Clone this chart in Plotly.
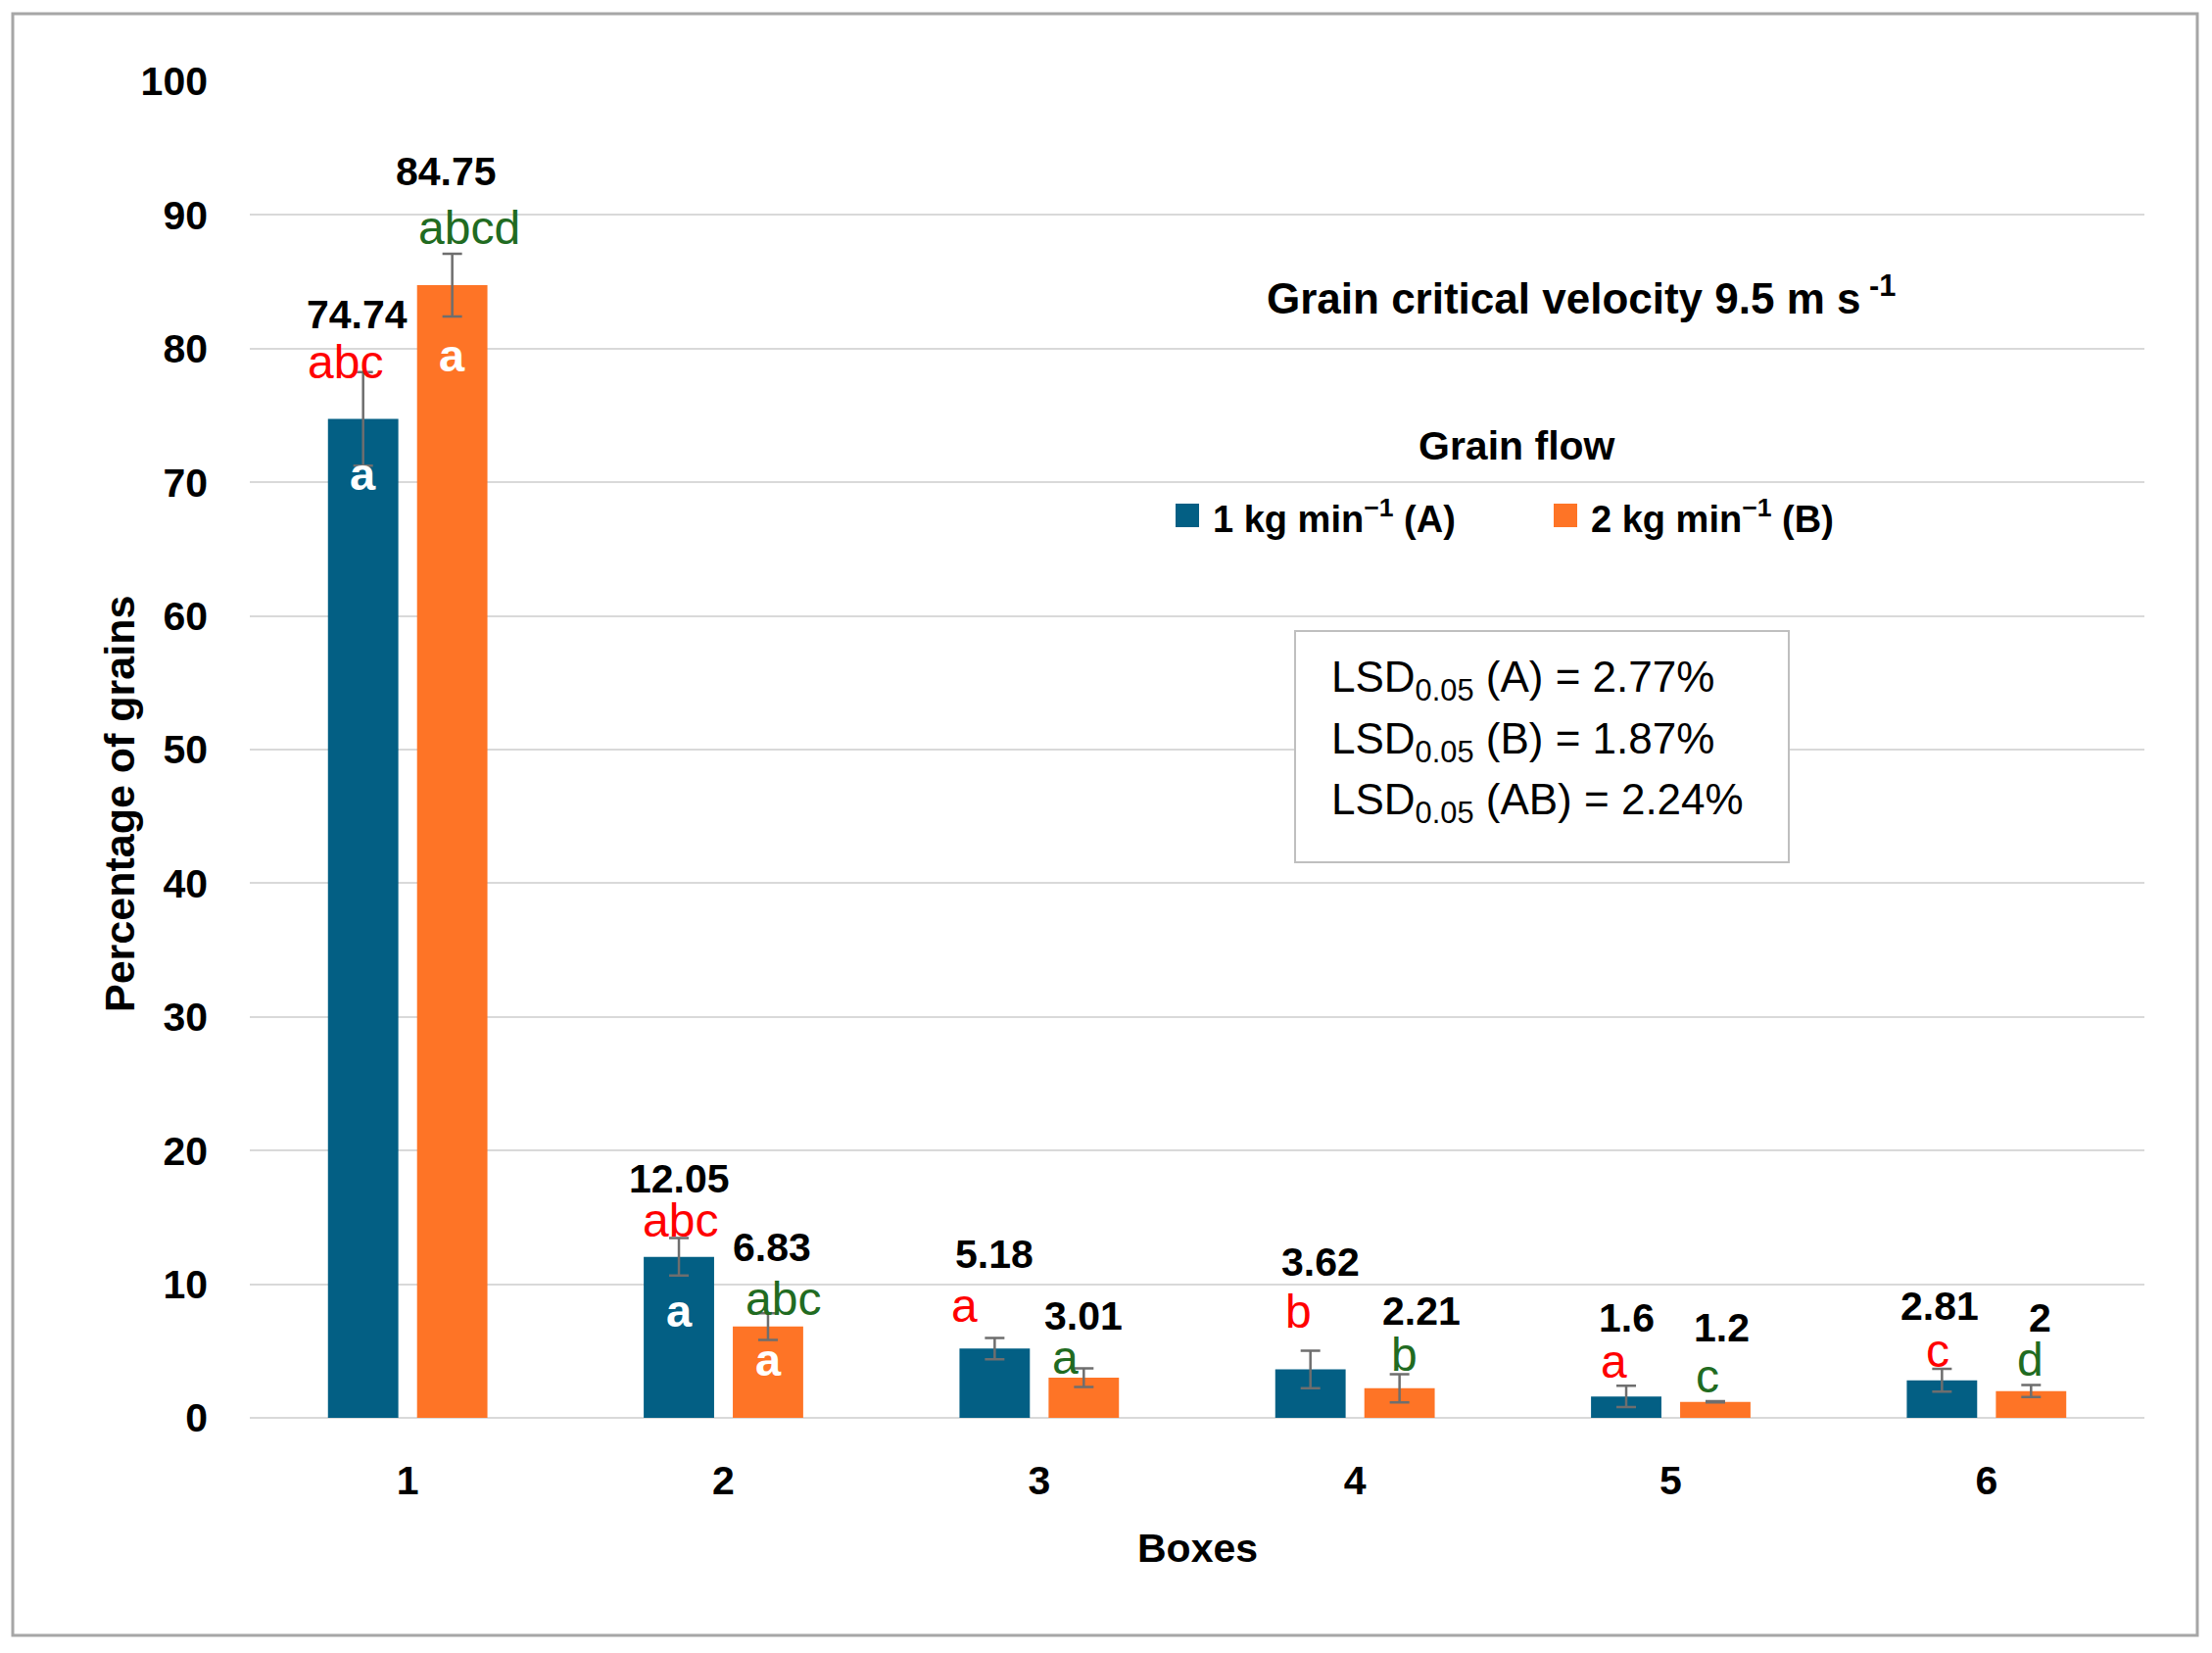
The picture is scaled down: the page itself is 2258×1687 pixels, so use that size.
import plotly.graph_objects as go

# ---------------- data ----------------
boxes = ["1", "2", "3", "4", "5", "6"]
flow_a_values = [74.74, 12.05, 5.18, 3.62, 1.6, 2.81]
flow_b_values = [84.75, 6.83, 3.01, 2.21, 1.2, 2]
flow_a_err = [3.5, 1.4, 0.8, 1.4, 0.8, 0.85]
flow_b_err = [2.35, 1.0, 0.7, 1.05, 0.05, 0.45]
flow_a_letters = ["abc", "abc", "a", "b", "a", "c"]
flow_b_letters = ["abcd", "abc", "a", "b", "c", "d"]
flow_a_inner = ["a", "a", "", "", "", ""]
flow_b_inner = ["a", "a", "", "", "", ""]
series_names = ["1 kg min<sup>\u22121</sup> (A)", "2 kg min<sup>\u22121</sup> (B)"]
lsd_lines = ["LSD<sub>0.05</sub> (A) = 2.77%",
             "LSD<sub>0.05</sub> (B) = 1.87%",
             "LSD<sub>0.05</sub> (AB) = 2.24%"]
y_ticks = list(range(0, 101, 10))

# ---------------- styles ----------------
W, H = 2258, 1687
L, R, T, B = 255, 2189, 83, 1447  # plot area pixel box
BLUE = "#035F84"
ORANGE = "#FE7426"
RED = "#FF0000"
GREEN = "#216B21"
ERR = "#6E6E6E"
GRID = "#D9D9D9"
BOLD = "Liberation Sans"
BAR_SHIFT = 45.5

def px(xp):
    return (xp - L) / (R - L)

def py(yp):
    return (B - yp) / (B - T)

# label pixel offsets (layout only)
val_dx_a = [-6, 0, 0, 10, 0, -2]
val_dy_a = [59, 61, 85, 91, 69, 64]
val_dx_b = [-6, 4, 0, 22, 6, 9]
val_dy_b = [84, 67, 53, 65, 75, 69]
let_dx_a = [-18, 1, -31, -12, -13, -4]
let_dy_a = [10, 18, 33, 40, 25, 19]
let_dx_b = [17, 15, -19, 5, -8, -1]
let_dy_b = [26, 15, 11, 20, 25, 26]
in_dy_a = [-56, -55, 0, 0, 0, 0]
in_dy_b = [-71, -34, 0, 0, 0, 0]

fig = go.Figure()
fig.add_trace(go.Bar(
    x=boxes, y=flow_a_values, name=series_names[0], marker_color=BLUE,
    marker_line_width=0,
    error_y=dict(type="data", array=flow_a_err, color=ERR, thickness=2.5, width=10),
))
fig.add_trace(go.Bar(
    x=boxes, y=flow_b_values, name=series_names[1], marker_color=ORANGE,
    marker_line_width=0,
    error_y=dict(type="data", array=flow_b_err, color=ERR, thickness=2.5, width=10),
))

ann = []
for i, bx in enumerate(boxes):
    for vals, errs, letters, inner, side, vdx, vdy, ldx, ldy, idy, lcol in [
        (flow_a_values, flow_a_err, flow_a_letters, flow_a_inner, -1,
         val_dx_a, val_dy_a, let_dx_a, let_dy_a, in_dy_a, RED),
        (flow_b_values, flow_b_err, flow_b_letters, flow_b_inner, 1,
         val_dx_b, val_dy_b, let_dx_b, let_dy_b, in_dy_b, GREEN),
    ]:
        top = vals[i] + errs[i]
        # x given as category index (i) on the category axis
        ann.append(dict(x=i, y=top, xref="x", yref="y", text=f"{vals[i]:g}",
                        showarrow=False, xanchor="center", yanchor="middle",
                        xshift=side * BAR_SHIFT + vdx[i], yshift=vdy[i],
                        font=dict(family=BOLD, size=41, color="black", weight="bold")))
        ann.append(dict(x=i, y=top, xref="x", yref="y", text=letters[i],
                        showarrow=False, xanchor="center", yanchor="middle",
                        xshift=side * BAR_SHIFT + ldx[i], yshift=ldy[i],
                        font=dict(family="Liberation Sans", size=48, color=lcol)))
        if inner[i]:
            ann.append(dict(x=i, y=vals[i], xref="x", yref="y", text=inner[i],
                            showarrow=False, xanchor="center", yanchor="middle",
                            xshift=side * BAR_SHIFT, yshift=idy[i],
                            font=dict(family=BOLD, size=47, color="white", weight="bold")))

# chart inner title
ann.append(dict(x=px(1291), y=py(302), xref="paper", yref="paper",
                text="Grain critical velocity 9.5 m s<sup> -1</sup>", showarrow=False,
                xanchor="left", yanchor="middle",
                font=dict(family=BOLD, size=44, color="black", weight="bold")))
# legend title & items
ann.append(dict(x=px(1548), y=py(455), xref="paper", yref="paper", text="Grain flow",
                showarrow=False, xanchor="center", yanchor="middle",
                font=dict(family=BOLD, size=41, color="black", weight="bold")))
for name, xl in zip(series_names, [1236, 1622]):
    ann.append(dict(x=px(xl), y=py(527), xref="paper", yref="paper", text=name,
                    showarrow=False, xanchor="left", yanchor="middle",
                    font=dict(family=BOLD, size=38, color="black", weight="bold")))
# LSD box text
for line, yl in zip(lsd_lines, [694, 757, 819]):
    ann.append(dict(x=px(1357), y=py(yl), xref="paper", yref="paper", text=line,
                    showarrow=False, xanchor="left", yanchor="middle",
                    font=dict(family="Liberation Sans", size=44, color="black")))
# axis titles
ann.append(dict(x=px(1222), y=py(1580), xref="paper", yref="paper", text="Boxes",
                showarrow=False, xanchor="center", yanchor="middle",
                font=dict(family=BOLD, size=41, color="black", weight="bold")))
ann.append(dict(x=px(122), y=py(821), xref="paper", yref="paper",
                text="Percentage of grains", textangle=-90, showarrow=False,
                xanchor="center", yanchor="middle",
                font=dict(family=BOLD, size=43, color="black", weight="bold")))

shapes = [
    # outer frame
    dict(type="rect", xref="paper", yref="paper", x0=px(13), x1=px(2243),
         y0=py(1669), y1=py(14), line=dict(color="#A6A6A6", width=3)),
    # LSD box
    dict(type="rect", xref="paper", yref="paper", x0=px(1322), x1=px(1826),
         y0=py(880), y1=py(644), line=dict(color="#BFBFBF", width=2),
         fillcolor="white", layer="above"),
    # legend swatches
    dict(type="rect", xref="paper", yref="paper", x0=px(1200), x1=px(1224),
         y0=py(538), y1=py(514), line=dict(width=0), fillcolor=BLUE),
    dict(type="rect", xref="paper", yref="paper", x0=px(1586), x1=px(1610),
         y0=py(538), y1=py(514), line=dict(width=0), fillcolor=ORANGE),
]

fig.update_layout(
    width=W, height=H,
    margin=dict(l=L, r=W - R, t=T, b=H - B),
    paper_bgcolor="white", plot_bgcolor="white",
    barmode="group", bargap=0.4357, bargroupgap=0.21,
    showlegend=False,
    annotations=ann, shapes=shapes,
    xaxis=dict(type="category", range=[-0.5, len(boxes) - 0.5], autorange=False,
               showgrid=False, showline=False, ticks="",
               tickfont=dict(family=BOLD, size=41, color="black", weight="bold"),
               ticklabelstandoff=36),
    yaxis=dict(range=[0, 100], autorange=False, tickvals=y_ticks, showgrid=True,
               gridcolor=GRID, gridwidth=2, zeroline=True, zerolinecolor=GRID,
               zerolinewidth=2, showline=False, ticks="",
               tickfont=dict(family=BOLD, size=41, color="black", weight="bold"),
               ticklabelstandoff=42),
)

fig.write_html("out.html")
